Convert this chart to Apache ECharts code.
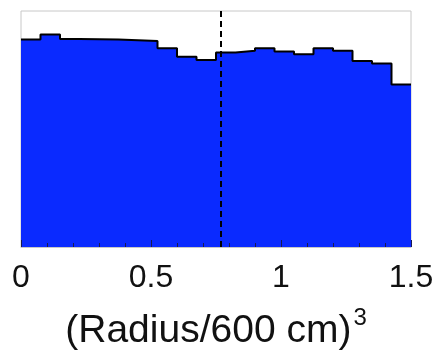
<!DOCTYPE html>
<html>
<head>
<meta charset="utf-8">
<script src="https://cdn.jsdelivr.net/npm/echarts@6/dist/echarts.min.js"></script>
<style>
  html, body { margin: 0; padding: 0; background: #fff; }
  #chart { width: 444px; height: 352px; }
</style>
</head>
<body>
<div id="chart"></div>
<script>
// Histogram of event positions in (R/600 cm)^3, 20 equal bins over [0, 1.5]
const binStart = 0;
const binWidth = 0.075;
const counts = [87.9, 90.0, 88.1, 88.0, 87.9, 87.6, 87.3, 84.2, 80.6, 79.2,
                82.4, 83.2, 84.2, 82.8, 81.7, 84.2, 83.2, 78.8, 77.8, 68.9];
const xTicks = [0, 0.5, 1, 1.5];
const cutValue = 0.77;   // fiducial-volume cut, dashed line

// Step outline: one point per bin left edge, plus the closing right edge
const stepPoints = counts.map((c, i) => [binStart + i * binWidth, c]);
stepPoints.push([binStart + counts.length * binWidth, counts[counts.length - 1]]);

const chart = echarts.init(document.getElementById('chart'), null, { renderer: 'canvas' });
chart.setOption({
  animation: false,
  grid: {
    left: 21, right: 33, top: 11, bottom: 105,
    outerBoundsMode: 'none',
    containLabel: false,
    show: true, borderColor: '#c8c8c8', borderWidth: 1, backgroundColor: '#fff'
  },
  xAxis: {
    type: 'value',
    min: xTicks[0],
    max: xTicks[xTicks.length - 1],
    interval: 0.5,
    z: 5,
    axisLine: { show: true, lineStyle: { color: '#c8c8c8', width: 1 } },
    axisTick: { show: true, inside: true, length: 7, lineStyle: { color: '#1a1a50', width: 1 } },
    minorTick: { show: true, splitNumber: 5, length: 4, lineStyle: { color: '#1a1a50', width: 1 } },
    splitLine: { show: false },
    axisLabel: {
      margin: 15,
      fontFamily: 'Liberation Sans, Arial, sans-serif',
      fontSize: 32,
      color: '#111',
      formatter: v => String(v)
    },
    name: '{a|(Radius/600 cm)}{s|3}',
    nameLocation: 'middle',
    nameGap: 59,
    nameTextStyle: {
      rich: {
        a: { fontFamily: 'Liberation Sans, Arial, sans-serif', fontSize: 39, color: '#111' },
        s: { fontFamily: 'Liberation Sans, Arial, sans-serif', fontSize: 24, color: '#111',
             verticalAlign: 'bottom', padding: [0, 0, 26, 2] }
      }
    }
  },
  yAxis: {
    type: 'value',
    min: 0,
    max: 100,
    axisLine: { show: false },
    axisTick: { show: false },
    axisLabel: { show: false },
    splitLine: { show: false }
  },
  series: [{
    type: 'line',
    step: 'end',
    data: stepPoints,
    symbol: 'none',
    lineStyle: { color: '#000', width: 2 },
    areaStyle: { color: '#0a2aff', opacity: 1 },
    z: 2,
    markLine: {
      silent: true,
      symbol: 'none',
      label: { show: false },
      lineStyle: { color: '#000', width: 2, type: [6, 4] },
      data: [{ xAxis: cutValue }]
    }
  }]
});
</script>
</body>
</html>
